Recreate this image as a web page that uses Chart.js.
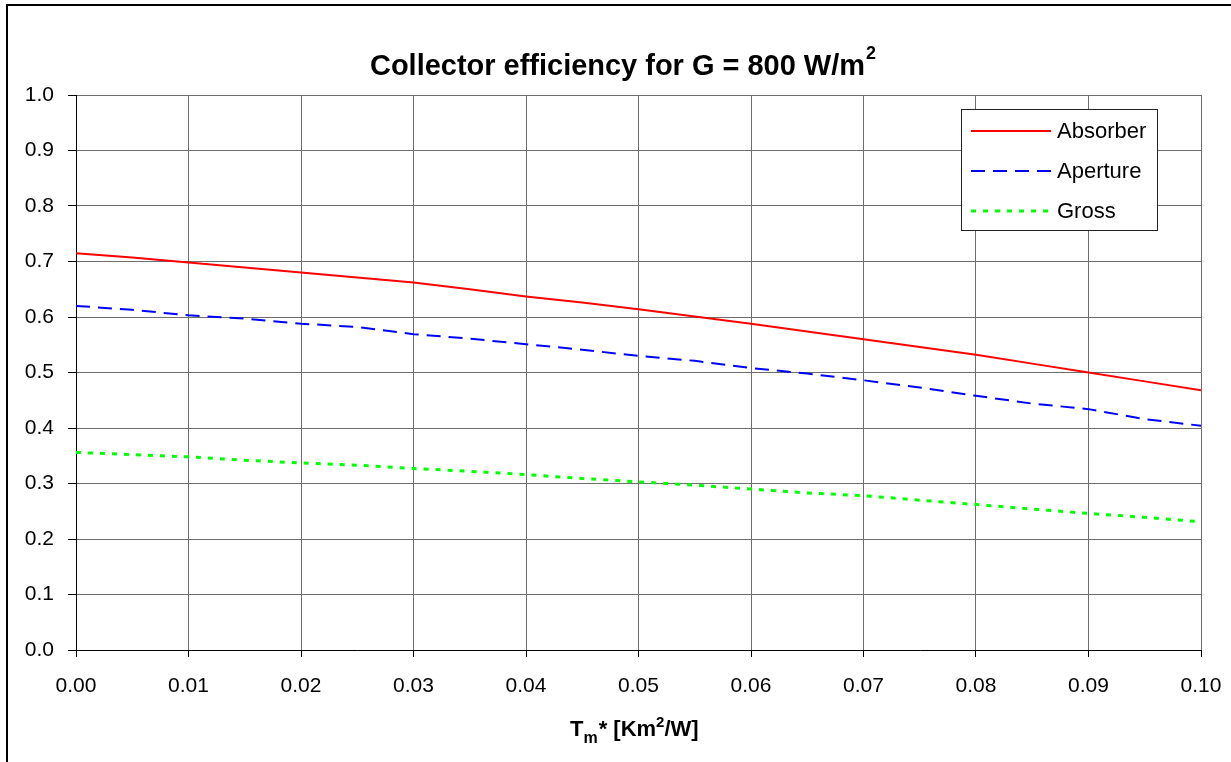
<!DOCTYPE html>
<html>
<head>
<meta charset="utf-8">
<script src="https://cdn.jsdelivr.net/npm/chart.js@4/dist/chart.umd.min.js"></script>
<style>
  html, body { margin: 0; padding: 0; background: #fff; }
  canvas { display: block; }
</style>
</head>
<body>
<canvas id="c" width="1231" height="762"></canvas>
<script>
// ---- Data ----
const titleText = "Collector efficiency for G = 800 W/m";
const titleSup = "2";
const xTitleParts = ["T", "m", "* [Km", "2", "/W]"];
const seriesNames = ["Absorber", "Aperture", "Gross"];
const xValues = [0, 0.005, 0.01, 0.015, 0.02, 0.025, 0.03, 0.035, 0.04, 0.045, 0.05,
                 0.055, 0.06, 0.065, 0.07, 0.075, 0.08, 0.085, 0.09, 0.095, 0.1];
const absorber = [0.715, 0.707, 0.698, 0.689, 0.680, 0.671, 0.662, 0.650, 0.637, 0.626, 0.614,
                  0.601, 0.588, 0.574, 0.560, 0.546, 0.532, 0.516, 0.500, 0.484, 0.468];
const aperture = [0.620, 0.613, 0.603, 0.597, 0.588, 0.582, 0.569, 0.561, 0.551, 0.541, 0.530,
                  0.521, 0.508, 0.498, 0.486, 0.473, 0.458, 0.444, 0.434, 0.416, 0.404];
const gross    = [0.356, 0.352, 0.348, 0.342, 0.337, 0.333, 0.327, 0.322, 0.316, 0.309, 0.303,
                  0.297, 0.290, 0.283, 0.278, 0.270, 0.262, 0.254, 0.246, 0.239, 0.231];
const xTickStep = 0.01;
const yTickStep = 0.1;

const FONT = "'Liberation Sans', Arial, sans-serif";

function pts(arr) { return xValues.map((x, i) => ({ x: x, y: arr[i] })); }

const styles = [
  { color: '#ff0000', width: 2, dash: [] },
  { color: '#0000ff', width: 2, dash: [14, 8] },
  { color: '#00ff00', width: 3, dash: [5, 7] }
];

const decorPlugin = {
  id: 'decor',
  beforeDraw(chart) {
    const ctx = chart.ctx;
    ctx.save();
    ctx.fillStyle = '#fff';
    ctx.fillRect(0, 0, chart.width, chart.height);
    ctx.restore();
  },
  afterDraw(chart) {
    const ctx = chart.ctx;
    ctx.save();
    // outer frame
    ctx.strokeStyle = '#000';
    ctx.lineWidth = 2;
    ctx.strokeRect(7, 5, 1400, 1000);

    // Title (bold, slightly condensed)
    ctx.fillStyle = '#000';
    ctx.textBaseline = 'alphabetic';
    ctx.textAlign = 'left';
    ctx.font = "bold 29px " + FONT;
    const wMain = ctx.measureText(titleText).width;
    const targetW = 495;
    const sx = targetW / wMain;
    ctx.save();
    ctx.translate(370, 75);
    ctx.scale(sx, 1);
    ctx.fillText(titleText, 0, 0);
    ctx.restore();
    ctx.font = "bold 18px " + FONT;
    ctx.fillText(titleSup, 370 + targetW + 1, 59);

    // X axis title with subscript / superscript
    let x = 570;
    const base = 736;
    ctx.font = "bold 22px " + FONT;
    ctx.fillText(xTitleParts[0], x, base); x += ctx.measureText(xTitleParts[0]).width;
    ctx.font = "bold 16px " + FONT;
    ctx.fillText(xTitleParts[1], x, base + 7); x += ctx.measureText(xTitleParts[1]).width + 1;
    ctx.font = "bold 22px " + FONT;
    ctx.fillText(xTitleParts[2], x, base); x += ctx.measureText(xTitleParts[2]).width;
    ctx.font = "bold 15px " + FONT;
    ctx.fillText(xTitleParts[3], x, base - 9); x += ctx.measureText(xTitleParts[3]).width;
    ctx.font = "bold 22px " + FONT;
    ctx.fillText(xTitleParts[4], x, base);

    // Legend box
    ctx.fillStyle = '#fff';
    ctx.fillRect(961, 109, 196, 121);
    ctx.strokeStyle = '#222';
    ctx.lineWidth = 1;
    ctx.strokeRect(961.5, 109.5, 196, 121);
    const rows = [131, 171, 211];
    chart.data.datasets.forEach((ds, i) => {
      const y = rows[i];
      ctx.strokeStyle = ds.borderColor;
      ctx.lineWidth = ds.borderWidth;
      ctx.setLineDash(ds.borderDash || []);
      ctx.beginPath();
      ctx.moveTo(971, y);
      ctx.lineTo(1051, y);
      ctx.stroke();
      ctx.setLineDash([]);
      ctx.fillStyle = '#000';
      ctx.font = "22px " + FONT;
      ctx.textBaseline = 'middle';
      ctx.fillText(ds.label, 1057, y + 1);
    });
    ctx.restore();
  }
};

new Chart(document.getElementById('c'), {
  type: 'line',
  data: {
    datasets: [absorber, aperture, gross].map((arr, i) => ({
      label: seriesNames[i],
      data: pts(arr),
      borderColor: styles[i].color,
      backgroundColor: styles[i].color,
      borderWidth: styles[i].width,
      borderDash: styles[i].dash,
      pointRadius: 0,
      tension: 0,
      fill: false
    }))
  },
  options: {
    responsive: false,
    devicePixelRatio: 1,
    animation: false,
    events: [],
    layout: { padding: { top: 95, right: 30, bottom: 0, left: 0 } },
    plugins: {
      legend: { display: false },
      title: { display: false },
      tooltip: { enabled: false }
    },
    scales: {
      x: {
        type: 'linear',
        min: 0, max: 0.1,
        ticks: {
          stepSize: xTickStep,
          callback: v => Number(v).toFixed(2),
          font: { family: FONT, size: 21 },
          color: '#000',
          padding: 17,
          maxRotation: 0,
          autoSkip: false
        },
        grid: { color: '#6e6e6e', lineWidth: 1, tickColor: '#000', tickLength: 7 },
        border: { color: '#000', width: 1 },
        afterFit: s => { s.height = 112; s.paddingLeft = 0; s.paddingRight = 0; }
      },
      y: {
        min: 0, max: 1,
        ticks: {
          stepSize: yTickStep,
          callback: v => Number(v).toFixed(1),
          font: { family: FONT, size: 21 },
          color: '#000',
          padding: 14
        },
        grid: { color: '#6e6e6e', lineWidth: 1, tickColor: '#000', tickLength: 8 },
        border: { color: '#000', width: 1 },
        afterFit: s => { s.width = 76; s.paddingTop = 0; s.paddingBottom = 0; }
      }
    }
  },
  plugins: [decorPlugin]
});
</script>
</body>
</html>
